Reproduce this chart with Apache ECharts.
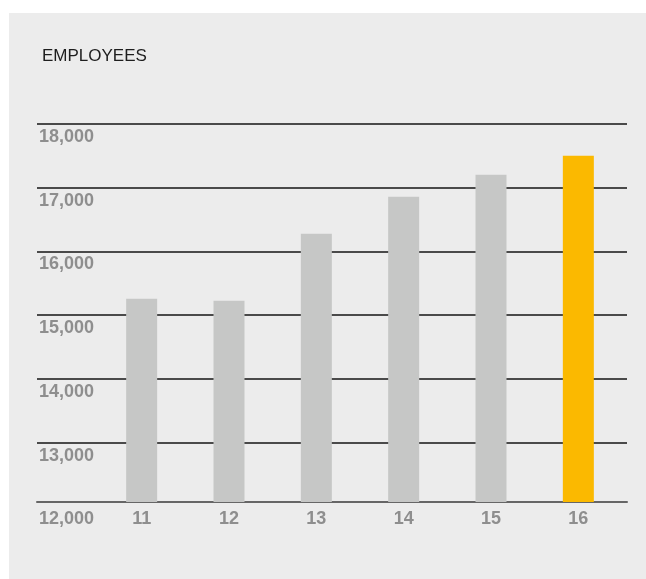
<!DOCTYPE html>
<html>
<head>
<meta charset="utf-8">
<script src="https://cdn.jsdelivr.net/npm/echarts@6/dist/echarts.min.js"></script>
<style>
  html, body { margin: 0; padding: 0; background: #ffffff; }
  #panel { position: absolute; left: 9px; top: 13px; width: 637px; height: 566px; background: #ececec; }
  #chart { position: absolute; left: 0; top: 0; width: 646px; height: 579px; }
</style>
</head>
<body>
<div id="panel"></div>
<div id="chart"></div>
<script>
const title = "EMPLOYEES";
const categories = ["11", "12", "13", "14", "15", "16"];
const employees = [15258, 15226, 16278, 16859, 17204, 17502];
const highlightIndex = 5;
const yMin = 12000, yMax = 18000, yStep = 1000;

const FONT = "'Liberation Sans', Arial, sans-serif";
const labelColor = '#8e8e8e';

// geometry
const gridTop = 124, gridBottomLines = 506.3, baselineY = 502;
const H = 579;
const unitPx = (gridBottomLines - gridTop) / (yMax - yMin);
const barAxisMin = yMax - (baselineY - gridTop) / unitPx;

const chart = echarts.init(document.getElementById('chart'), null, { renderer: 'canvas' });
chart.setOption({
  backgroundColor: 'transparent',
  animation: false,
  title: {
    text: title, left: 37, top: 43,
    textStyle: { fontFamily: FONT, fontSize: 17, fontWeight: 'normal', color: '#1e1e1e' }
  },
  grid: [
    { left: 37, right: 19, top: gridTop, bottom: H - gridBottomLines },
    { left: 37, right: 19, top: gridTop, bottom: H - baselineY },
    { left: 98, right: 24, top: gridTop, bottom: H - baselineY }
  ],
  xAxis: [
    { gridIndex: 0, type: 'value', show: false },
    { gridIndex: 1, type: 'value', min: 0, max: 1, axisLine: { show: true, onZero: false, lineStyle: { color: '#666666', width: 2 } },
      axisTick: { show: false }, axisLabel: { show: false }, splitLine: { show: false } },
    { gridIndex: 2, type: 'category', data: categories,
      axisLine: { show: false }, axisTick: { show: false },
      axisLabel: { margin: 8, fontFamily: FONT, fontSize: 18, fontWeight: 'bold', color: labelColor } }
  ],
  yAxis: [
    { gridIndex: 0, type: 'value', min: yMin, max: yMax, interval: yStep,
      axisLine: { show: false }, axisTick: { show: false },
      splitLine: { show: true, showMinLine: false, lineStyle: { color: '#151515', width: 1.5 } },
      axisLabel: {
        inside: true, margin: 2, align: 'left', verticalAlign: 'top', padding: [4, 0, 0, 0],
        fontFamily: FONT, fontSize: 18, fontWeight: 'bold', color: labelColor,
        formatter: v => v.toLocaleString('en-US')
      } },
    { gridIndex: 1, type: 'value', show: false, splitLine: { show: false } },
    { gridIndex: 2, type: 'value', min: barAxisMin, max: yMax, show: false, splitLine: { show: false } }
  ],
  series: [{
    type: 'bar', xAxisIndex: 2, yAxisIndex: 2,
    barWidth: 31,
    data: employees.map((v, i) => ({
      value: v,
      itemStyle: { color: i === highlightIndex ? '#fbb900' : '#c6c7c6' }
    }))
  }]
});
</script>
</body>
</html>
